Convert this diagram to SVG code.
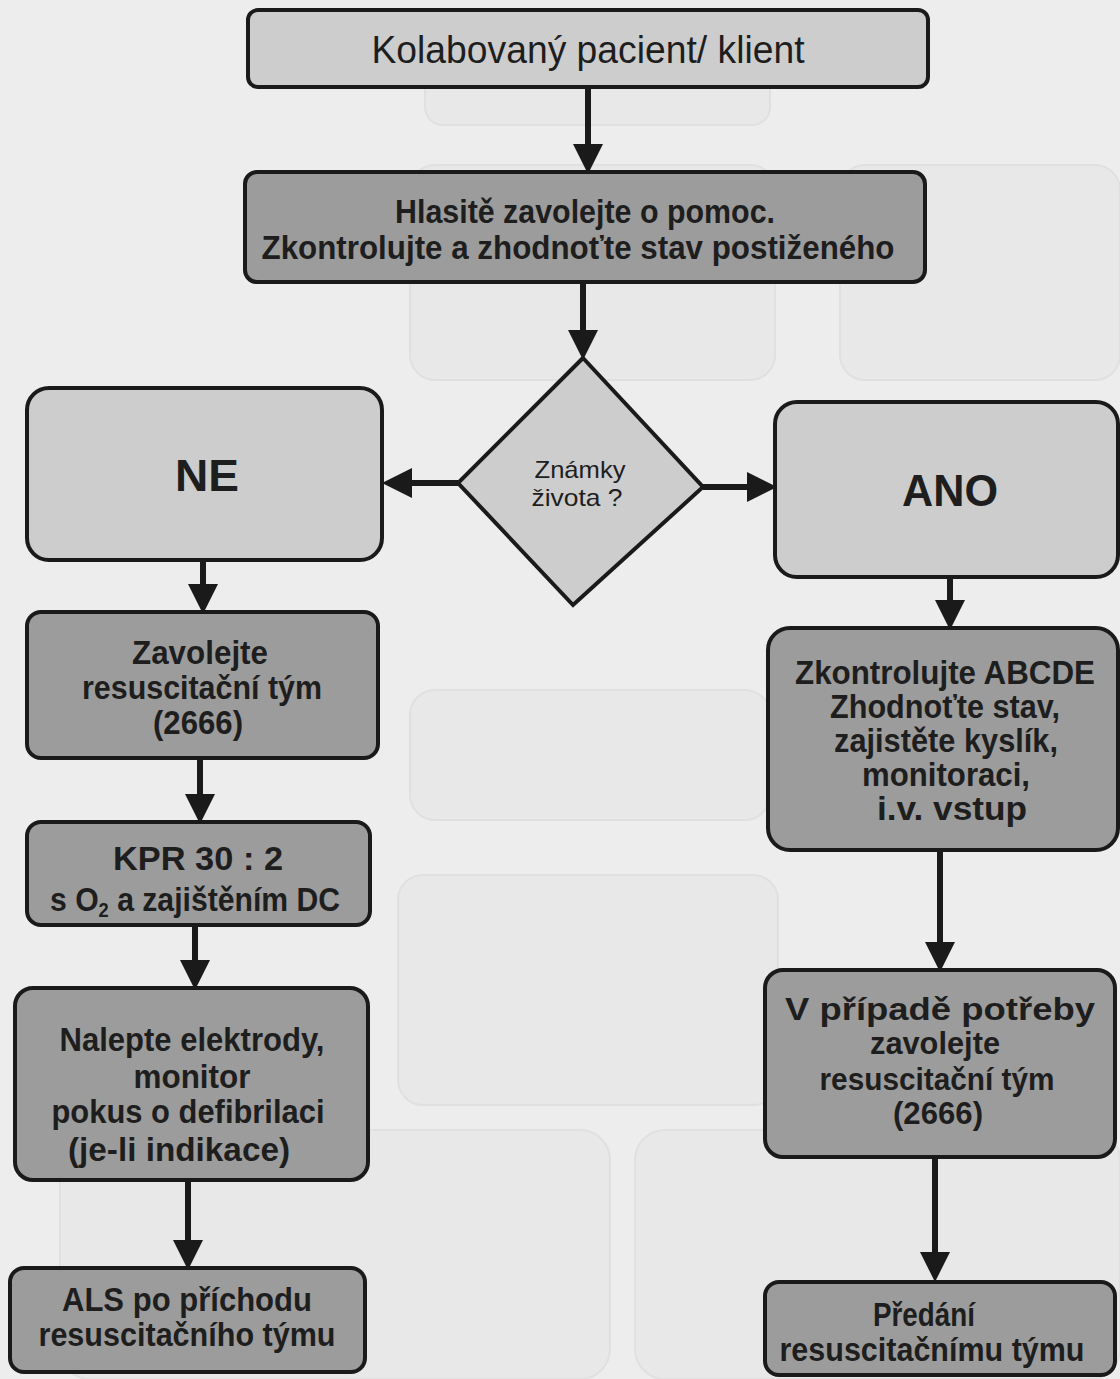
<svg xmlns="http://www.w3.org/2000/svg" width="1120" height="1379" viewBox="0 0 1120 1379">
<defs>
<style>
.bg{fill:#ededed}
.light{fill:#cdcdcd;stroke:#1a1a1a;stroke-width:4}
.dark{fill:#9c9c9c;stroke:#1a1a1a;stroke-width:4}
.t{font-family:"Liberation Sans",Arial,sans-serif;font-weight:bold;fill:#1e1e1e;text-anchor:middle}
.tr{font-family:"Liberation Sans",Arial,sans-serif;fill:#1e1e1e;text-anchor:middle}
.c{stroke:#1a1a1a;stroke-width:6;fill:none}
.ghost{fill:#e8e8e8;stroke:#e0e0e0;stroke-width:2}
</style>
<marker id="ah" markerWidth="5" markerHeight="5" refX="4" refY="2.5" orient="auto" markerUnits="strokeWidth">
<path d="M0,0 L5,2.5 L0,5 Z" fill="#1a1a1a"/>
</marker>
</defs>
<rect class="bg" x="0" y="0" width="1120" height="1379"/>
<g id="ghosts">
<rect class="ghost" x="425" y="40" width="345" height="85" rx="18"/>
<rect class="ghost" x="410" y="165" width="365" height="215" rx="25"/>
<rect class="ghost" x="840" y="165" width="280" height="215" rx="25"/>
<rect class="ghost" x="410" y="690" width="360" height="130" rx="25"/>
<rect class="ghost" x="398" y="875" width="380" height="230" rx="25"/>
<rect class="ghost" x="60" y="1130" width="550" height="249" rx="30"/>
<rect class="ghost" x="635" y="1130" width="485" height="249" rx="30"/>
</g>
<g id="connectors">
<line class="c" x1="588" y1="87" x2="588" y2="168" marker-end="url(#ah)"/>
<line class="c" x1="583" y1="282" x2="583" y2="354" marker-end="url(#ah)"/>
<line class="c" x1="458" y1="483" x2="388" y2="483" marker-end="url(#ah)"/>
<line class="c" x1="703" y1="487" x2="771" y2="487" marker-end="url(#ah)"/>
<line class="c" x1="203" y1="560" x2="203" y2="608" marker-end="url(#ah)"/>
<line class="c" x1="200" y1="758" x2="200" y2="818" marker-end="url(#ah)"/>
<line class="c" x1="195" y1="925" x2="195" y2="984" marker-end="url(#ah)"/>
<line class="c" x1="188" y1="1180" x2="188" y2="1264" marker-end="url(#ah)"/>
<line class="c" x1="950" y1="577" x2="950" y2="624" marker-end="url(#ah)"/>
<line class="c" x1="940" y1="850" x2="940" y2="966" marker-end="url(#ah)"/>
<line class="c" x1="935" y1="1157" x2="935" y2="1276" marker-end="url(#ah)"/>
</g>
<g id="n1">
<rect class="light" x="248" y="10" width="680" height="77" rx="10"/>
<text class="tr" x="588" y="63" font-size="38" textLength="433" lengthAdjust="spacingAndGlyphs">Kolabovaný pacient/ klient</text>
</g>
<g id="n2">
<rect class="dark" x="245" y="172" width="680" height="110" rx="12"/>
<text class="t" x="585" y="223" font-size="33" textLength="380" lengthAdjust="spacingAndGlyphs">Hlasitě zavolejte o pomoc.</text>
<text class="t" x="578" y="259" font-size="33" textLength="633" lengthAdjust="spacingAndGlyphs">Zkontrolujte a zhodnoťte stav postiženého</text>
</g>
<g id="decision">
<polygon class="light" points="583,358 703,487 573,605 458,483"/>
<text class="tr" x="580" y="478" font-size="24" textLength="91" lengthAdjust="spacingAndGlyphs">Známky</text>
<text class="tr" x="577" y="506" font-size="24" textLength="91" lengthAdjust="spacingAndGlyphs">života ?</text>
</g>
<g id="ne">
<rect class="light" x="27" y="388" width="355" height="172" rx="22"/>
<text class="t" x="207" y="491" font-size="44" textLength="64" lengthAdjust="spacingAndGlyphs">NE</text>
</g>
<g id="ano">
<rect class="light" x="775" y="402" width="343" height="175" rx="22"/>
<text class="t" x="950" y="506" font-size="44" textLength="96" lengthAdjust="spacingAndGlyphs">ANO</text>
</g>
<g id="l1">
<rect class="dark" x="27" y="612" width="351" height="146" rx="14"/>
<text class="t" x="200" y="664" font-size="33" textLength="136" lengthAdjust="spacingAndGlyphs">Zavolejte</text>
<text class="t" x="202" y="699" font-size="33" textLength="240" lengthAdjust="spacingAndGlyphs">resuscitační tým</text>
<text class="t" x="198" y="734" font-size="33" textLength="90" lengthAdjust="spacingAndGlyphs">(2666)</text>
</g>
<g id="l2">
<rect class="dark" x="27" y="822" width="343" height="103" rx="14"/>
<text class="t" x="198" y="870" font-size="33" textLength="170" lengthAdjust="spacingAndGlyphs">KPR 30 : 2</text>
<text class="t" x="195" y="911" font-size="33" textLength="290" lengthAdjust="spacingAndGlyphs">s O<tspan font-size="20" dy="6">2</tspan><tspan dy="-6"> a zajištěním DC</tspan></text>
</g>
<g id="l3">
<rect class="dark" x="15" y="988" width="353" height="192" rx="18"/>
<text class="t" x="192" y="1051" font-size="33" textLength="265" lengthAdjust="spacingAndGlyphs">Nalepte elektrody,</text>
<text class="t" x="192" y="1088" font-size="33" textLength="117" lengthAdjust="spacingAndGlyphs">monitor</text>
<text class="t" x="188" y="1123" font-size="33" textLength="273" lengthAdjust="spacingAndGlyphs">pokus o defibrilaci</text>
<text class="t" x="179" y="1161" font-size="33" textLength="222" lengthAdjust="spacingAndGlyphs">(je-li indikace)</text>
</g>
<g id="l4">
<rect class="dark" x="10" y="1268" width="355" height="104" rx="14"/>
<text class="t" x="187" y="1311" font-size="33" textLength="250" lengthAdjust="spacingAndGlyphs">ALS po příchodu</text>
<text class="t" x="187" y="1346" font-size="33" textLength="297" lengthAdjust="spacingAndGlyphs">resuscitačního týmu</text>
</g>
<g id="r1">
<rect class="dark" x="768" y="628" width="350" height="222" rx="22"/>
<text class="t" x="945" y="684" font-size="33" textLength="300" lengthAdjust="spacingAndGlyphs">Zkontrolujte ABCDE</text>
<text class="t" x="945" y="718" font-size="33" textLength="230" lengthAdjust="spacingAndGlyphs">Zhodnoťte stav,</text>
<text class="t" x="946" y="752" font-size="33" textLength="224" lengthAdjust="spacingAndGlyphs">zajistěte kyslík,</text>
<text class="t" x="946" y="786" font-size="33" textLength="168" lengthAdjust="spacingAndGlyphs">monitoraci,</text>
<text class="t" x="952" y="820" font-size="33" textLength="150" lengthAdjust="spacingAndGlyphs">i.v. vstup</text>
</g>
<g id="r2">
<rect class="dark" x="765" y="970" width="350" height="187" rx="18"/>
<text class="t" x="940" y="1020" font-size="31" textLength="310" lengthAdjust="spacingAndGlyphs">V případě potřeby</text>
<text class="t" x="935" y="1054" font-size="31" textLength="130" lengthAdjust="spacingAndGlyphs">zavolejte</text>
<text class="t" x="937" y="1090" font-size="31" textLength="235" lengthAdjust="spacingAndGlyphs">resuscitační tým</text>
<text class="t" x="938" y="1124" font-size="31" textLength="90" lengthAdjust="spacingAndGlyphs">(2666)</text>
</g>
<g id="r3">
<rect class="dark" x="765" y="1282" width="350" height="93" rx="14"/>
<text class="t" x="924" y="1326" font-size="33" textLength="102" lengthAdjust="spacingAndGlyphs">Předání</text>
<text class="t" x="932" y="1361" font-size="33" textLength="305" lengthAdjust="spacingAndGlyphs">resuscitačnímu týmu</text>
</g>
</svg>
